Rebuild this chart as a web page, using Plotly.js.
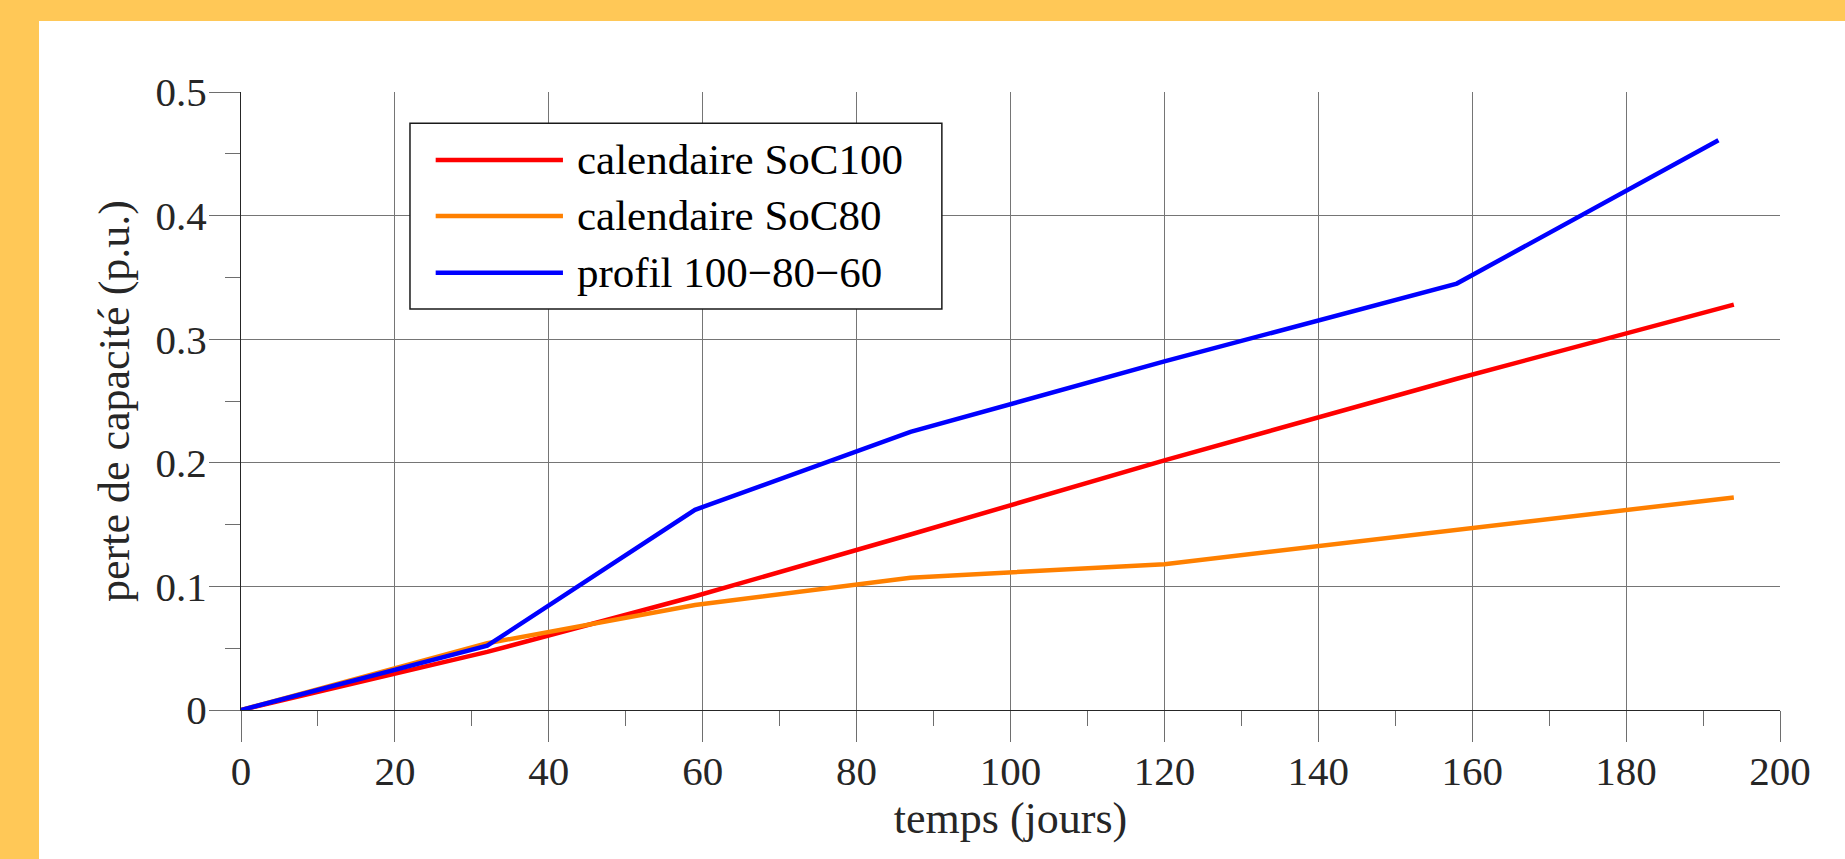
<!DOCTYPE html>
<html>
<head>
<meta charset="utf-8">
<script src="https://cdn.plot.ly/plotly-3.0.1.min.js"></script>
<style>
  html, body { margin: 0; padding: 0; background: #FFC857; width: 1845px; height: 859px; overflow: hidden; }
  #chart { position: absolute; left: 39px; top: 21px; width: 1806px; height: 838px; background: #ffffff; }
</style>
</head>
<body>
<div id="chart"></div>
<script>
// ---- data ----
const seriesNames = ["calendaire SoC100", "calendaire SoC80", "profil 100\u221280\u221260"];
const daysCalendaire = [0, 32, 59, 87, 120, 158, 194];
const lossSoC100 = [0, 0.047, 0.092, 0.142, 0.202, 0.268, 0.328];
const lossSoC80 = [0, 0.054, 0.085, 0.107, 0.118, 0.146, 0.172];
const daysProfil = [0, 32, 59, 87, 120, 158, 192];
const lossProfil = [0, 0.052, 0.162, 0.225, 0.282, 0.345, 0.461];
const xTickVals = [0, 20, 40, 60, 80, 100, 120, 140, 160, 180, 200];
const yTickVals = [0, 0.1, 0.2, 0.3, 0.4, 0.5];

const colors = ["#FF0000", "#FF8000", "#0000FF"];
const FONT = "Liberation Serif, Times New Roman, serif";

const traces = [
  {x: daysCalendaire, y: lossSoC100, name: seriesNames[0]},
  {x: daysCalendaire, y: lossSoC80, name: seriesNames[1]},
  {x: daysProfil, y: lossProfil, name: seriesNames[2]}
].map((t, i) => Object.assign(t, {
  type: "scatter", mode: "lines", showlegend: false, hoverinfo: "x+y",
  line: {color: colors[i], width: 4.5}
}));

// custom legend (paper coordinates)
const legBox = {x0: 0.1098, x1: 0.4554, y0: 0.6489, y1: 0.9494};
const legRows = [0.8900, 0.7994, 0.7076];
const shapes = [{
  type: "rect", xref: "paper", yref: "paper", layer: "above",
  x0: legBox.x0, x1: legBox.x1, y0: legBox.y0, y1: legBox.y1,
  fillcolor: "#ffffff", line: {color: "#1a1a1a", width: 1.5}
}];
const annotations = [];
seriesNames.forEach((n, i) => {
  shapes.push({type: "line", xref: "paper", yref: "paper", layer: "above",
    x0: 0.1265, x1: 0.2092, y0: legRows[i], y1: legRows[i],
    line: {color: colors[i], width: 4.5}});
  annotations.push({xref: "paper", yref: "paper", x: 0.2170, y: legRows[i],
    xanchor: "left", yanchor: "middle", showarrow: false, text: n,
    font: {family: FONT, size: 43, color: "#000000"}});
});

const axisCommon = {
  showline: true, linecolor: "#262626", linewidth: 1,
  showgrid: true, gridcolor: "#757575", gridwidth: 1,
  zeroline: false,
  ticks: "outside", ticklen: 31, tickwidth: 1, tickcolor: "#6e6e6e",
  tickfont: {family: FONT, size: 41, color: "#262626"},
  automargin: false
};

const layout = {
  width: 1806, height: 838,
  paper_bgcolor: "#ffffff", plot_bgcolor: "#ffffff",
  margin: {l: 202, r: 65, t: 71, b: 149},
  font: {family: FONT, color: "#262626"},
  xaxis: Object.assign({}, axisCommon, {
    range: [0, 200], tickmode: "array", tickvals: xTickVals,
    minor: {ticks: "outside", ticklen: 15, dtick: 10, tickcolor: "#6e6e6e", showgrid: false},
    ticklabelstandoff: -6,
    title: {text: "temps (jours)", font: {family: FONT, size: 44, color: "#262626"}, standoff: 0}
  }),
  yaxis: Object.assign({}, axisCommon, {
    range: [0, 0.5], tickmode: "array", tickvals: yTickVals,
    minor: {ticks: "outside", ticklen: 15, dtick: 0.05, tickcolor: "#6e6e6e", showgrid: false},
    ticklabelstandoff: -6,
    title: {text: "perte de capacité (p.u.)", font: {family: FONT, size: 44, color: "#262626"}, standoff: 12}
  }),
  shapes: shapes,
  annotations: annotations
};

Plotly.newPlot("chart", traces, layout, {displayModeBar: false});
</script>
</body>
</html>
